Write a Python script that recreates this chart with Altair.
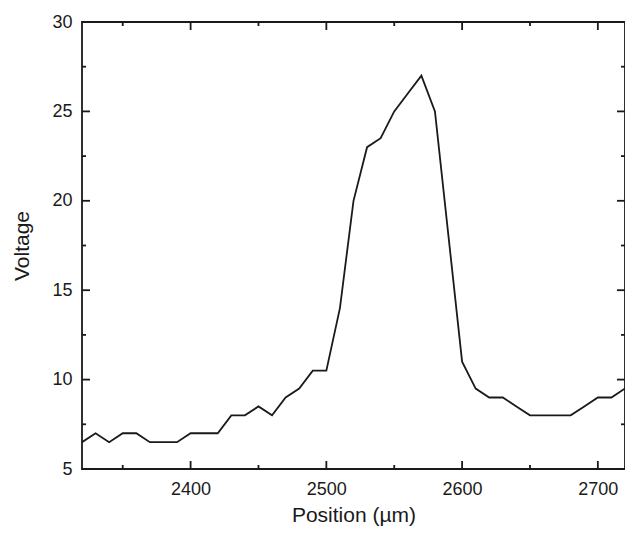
import altair as alt
import pandas as pd

position = [2320, 2330, 2340, 2350, 2360, 2370, 2380, 2390, 2400, 2410,
            2420, 2430, 2440, 2450, 2460, 2470, 2480, 2490, 2500, 2510,
            2520, 2530, 2540, 2550, 2560, 2570, 2580, 2590, 2600, 2610,
            2620, 2630, 2640, 2650, 2660, 2670, 2680, 2690, 2700, 2710,
            2720, 2730]
voltage = [6.5, 7.0, 6.5, 7.0, 7.0, 6.5, 6.5, 6.5, 7.0, 7.0,
           7.0, 8.0, 8.0, 8.5, 8.0, 9.0, 9.5, 10.5, 10.5, 14.0,
           20.0, 23.0, 23.5, 25.0, 26.0, 27.0, 25.0, 18.0, 11.0, 9.5,
           9.0, 9.0, 8.5, 8.0, 8.0, 8.0, 8.0, 8.5, 9.0, 9.0,
           9.5, 10.0]

x_major = [2400, 2500, 2600, 2700]
x_minor = [2350, 2450, 2550, 2650]
y_major = [5, 10, 15, 20, 25, 30]
y_minor = [7.5, 12.5, 17.5, 22.5, 27.5]

W, H = 543, 447
FONT = "Liberation Sans"
INK = "#1a1a1a"

xs = alt.Scale(domain=[2320, 2720], nice=False, zero=False)
ys = alt.Scale(domain=[5, 30], nice=False, zero=False)

x_axis = alt.Axis(values=x_major, ticks=False, tickSize=0, domain=False,
                  grid=False, labelFontSize=18, labelFont=FONT,
                  labelColor=INK, labelPadding=11, titleFont=FONT,
                  titleFontSize=21, titleFontWeight="normal",
                  titleColor=INK, titlePadding=6, format="d")
y_axis = alt.Axis(values=y_major, ticks=False, tickSize=0, domain=False,
                  grid=False, labelFontSize=18, labelFont=FONT,
                  labelColor=INK, labelPadding=10, titleFont=FONT,
                  titleFontSize=21, titleFontWeight="normal",
                  titleColor=INK, titlePadding=19)
X_TITLE = "Position (µm)"
Y_TITLE = "Voltage"

df = pd.DataFrame({"x": position, "y": voltage})

line = alt.Chart(df).mark_line(color=INK, strokeWidth=1.8, clip=True).encode(
    x=alt.X("x:Q", scale=xs, title=X_TITLE, axis=x_axis),
    y=alt.Y("y:Q", scale=ys, title=Y_TITLE, axis=y_axis),
)

def xticks(vals, length):
    d = pd.DataFrame({"x": vals})
    base = alt.Chart(d).mark_rule(color=INK, strokeWidth=1.8)
    enc_x = alt.X("x:Q", scale=xs, title=X_TITLE, axis=x_axis)
    bottom = base.encode(x=enc_x, y=alt.value(H), y2=alt.value(H - length))
    top = base.encode(x=enc_x, y=alt.value(0), y2=alt.value(length))
    return [bottom, top]

def yticks(vals, length):
    d = pd.DataFrame({"y": vals})
    base = alt.Chart(d).mark_rule(color=INK, strokeWidth=1.8)
    enc_y = alt.Y("y:Q", scale=ys, title=Y_TITLE, axis=y_axis)
    left = base.encode(y=enc_y, x=alt.value(0), x2=alt.value(length))
    right = base.encode(y=enc_y, x=alt.value(W), x2=alt.value(W - length))
    return [left, right]

layers = [line] + xticks(x_major, 8) + xticks(x_minor, 4) + yticks(y_major, 8) + yticks(y_minor, 4)

chart = alt.layer(*layers).properties(
    width=W, height=H,
    background="white",
    autosize=alt.AutoSizeParams(type="none"),
    padding={"left": 74, "top": 14, "right": 0, "bottom": 57},
).configure_view(stroke=INK, strokeWidth=1.8)

chart.save("out.html", embed_options={"renderer": "svg", "actions": False})
